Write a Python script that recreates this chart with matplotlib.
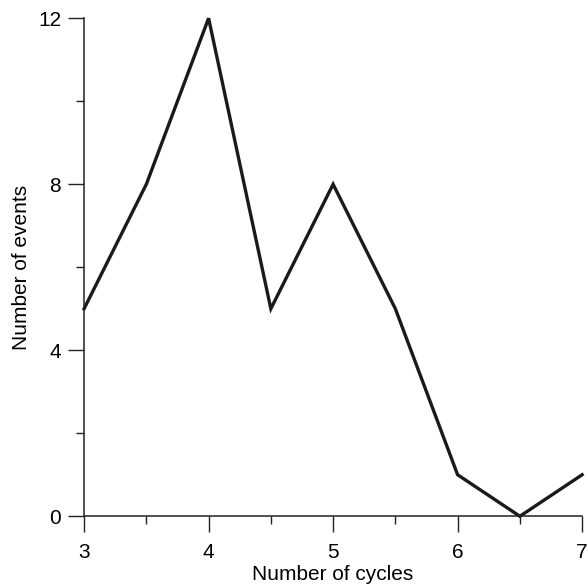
import matplotlib.pyplot as plt
from matplotlib.ticker import MultipleLocator

plt.rcParams['font.family'] = ['Liberation Sans', 'DejaVu Sans']

cycles = [3, 3.5, 4, 4.5, 5, 5.5, 6, 6.5, 7]
events = [5, 8, 12, 5, 8, 5, 1, 0, 1]

fig = plt.figure(figsize=(5.88, 5.88), dpi=100)
ax = fig.add_axes([0.143, 0.122, 0.847, 0.847])

ax.plot(cycles, events, color='#1a1a1a', linewidth=2.4, clip_on=False,
        solid_joinstyle='miter')

ax.set_xlim(3, 7)
ax.set_ylim(0, 12)
ax.xaxis.set_major_locator(MultipleLocator(1))
ax.xaxis.set_minor_locator(MultipleLocator(0.5))
ax.yaxis.set_major_locator(MultipleLocator(4))
ax.yaxis.set_minor_locator(MultipleLocator(2))

for s in ['top', 'right']:
    ax.spines[s].set_visible(False)
for s in ['left', 'bottom']:
    ax.spines[s].set_linewidth(1.1)
    ax.spines[s].set_color('#222222')

ax.tick_params(which='major', length=11.5, width=1.0, color='#222222',
               labelsize=15, pad=5)
ax.tick_params(which='minor', length=6, width=1.0, color='#222222')
ax.tick_params(axis='x', which='major', pad=8)

ax.set_xlabel('Number of cycles', fontsize=15, labelpad=2)
ax.set_ylabel('Number of events', fontsize=15, labelpad=5)

fig.savefig('out.png', dpi=100)
